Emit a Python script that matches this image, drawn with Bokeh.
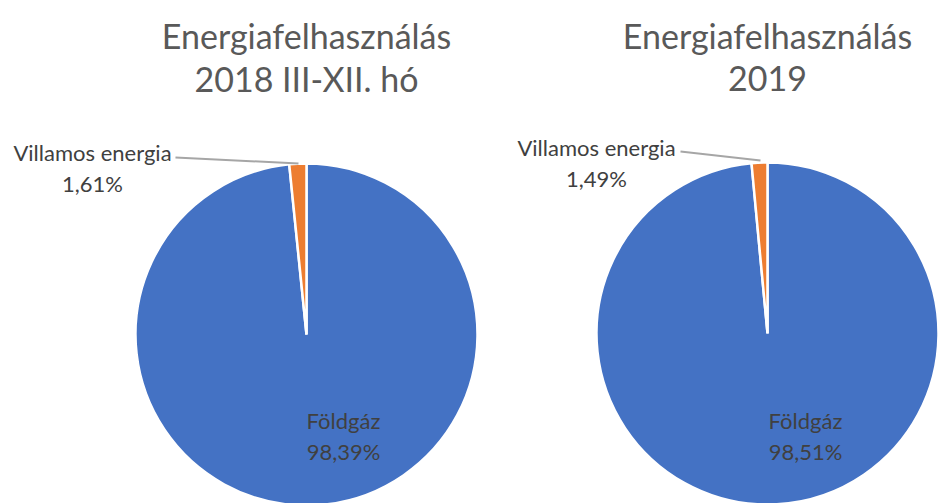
import numpy as np
from bokeh.plotting import figure
from bokeh.models import Range1d, ColumnDataSource
from bokeh.core.properties import value
from bokeh.embed import file_html
from bokeh.resources import INLINE

# ---- data ----
categories = ["Földgáz", "Villamos energia"]
shares_2018 = [98.39, 1.61]
shares_2019 = [98.51, 1.49]
titles = [["Energiafelhasználás", "2018 III-XII. hó"], ["Energiafelhasználás", "2019"]]
colors = ["#4472C4", "#ED7D31"]

W, H = 938, 503
FONT = "Lato"

p = figure(width=W, height=H, output_backend="svg", toolbar_location=None,
           x_range=Range1d(0, W), y_range=Range1d(0, H), min_border=0)
p.axis.visible = False
p.grid.visible = False
p.outline_line_color = None
p.background_fill_color = "white"
p.border_fill_color = "white"

def Y(py):
    return H - py

charts = [
    dict(shares=shares_2018, titles=titles[0], cx=306, cy=334, r=171,
         tx=306, small_lbl=(92, 152), leader=((175, 157), (298, 163)), big_lbl=(343, 420)),
    dict(shares=shares_2019, titles=titles[1], cx=767, cy=333, r=171,
         tx=767, small_lbl=(596, 147), leader=((680, 151), (760, 160)), big_lbl=(805, 420)),
]

for c in charts:
    fr = np.array(c["shares"]) / 100.0
    ends = np.cumsum(fr)
    starts = ends - fr
    start_a = np.pi / 2 - starts * 2 * np.pi
    end_a = np.pi / 2 - ends * 2 * np.pi
    src = ColumnDataSource(dict(start=start_a, end=end_a, color=colors))
    p.wedge(x=c["cx"], y=Y(c["cy"]), radius=c["r"], radius_units="screen",
            start_angle="start", end_angle="end", direction="clock",
            fill_color="color", line_color="white", line_width=2.5, source=src)
    # titles
    p.text(x=[c["tx"], c["tx"]], y=[Y(35), Y(78)], text=c["titles"],
           text_font=value(FONT), text_font_size="34px", text_color="#595959",
           text_align="center", text_baseline="middle")
    # small slice label
    sx, sy = c["small_lbl"]
    pct_small = f"{c['shares'][1]:.2f}".replace(".", ",") + "%"
    p.text(x=[sx, sx], y=[Y(sy), Y(sy + 31)], text=[categories[1], pct_small],
           text_font=value(FONT), text_font_size="22px", text_color="#404040",
           text_align="center", text_baseline="middle")
    (x0, y0), (x1, y1) = c["leader"]
    p.line(x=[x0, x1], y=[Y(y0), Y(y1)], line_color="#A6A6A6", line_width=2)
    # big slice label
    bx, by = c["big_lbl"]
    pct_big = f"{c['shares'][0]:.2f}".replace(".", ",") + "%"
    p.text(x=[bx, bx], y=[Y(by), Y(by + 31)], text=[categories[0], pct_big],
           text_font=value(FONT), text_font_size="22px", text_color="#404040",
           text_align="center", text_baseline="middle")

open("out.html", "w").write(file_html(p, INLINE))
